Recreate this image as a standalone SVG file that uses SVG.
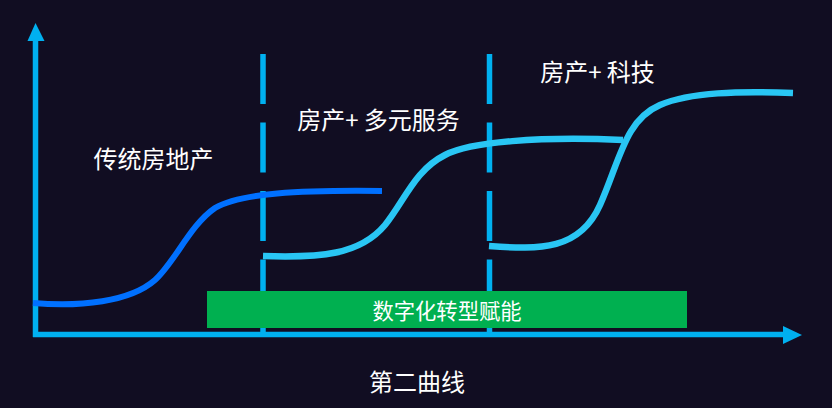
<svg xmlns="http://www.w3.org/2000/svg" width="832" height="408" viewBox="0 0 832 408">
<style>
.axis{stroke:#00b0f0;stroke-width:5.5;fill:none}
.dash{stroke:#00b0f0;stroke-width:5.5;fill:none;stroke-dasharray:50 18.5}
.c1{stroke:#0070ff;stroke-width:6;fill:none}
.c2{stroke:#29c6f4;stroke-width:6.5;fill:none}
.t{font-family:"Noto Sans CJK SC","Noto Sans",sans-serif;fill:#ffffff;text-anchor:middle}
</style>
<rect width="832" height="408" fill="#110d22"/>
<g id="axes">
<line class="axis" x1="35.5" y1="337" x2="35.5" y2="38"/>
<polygon points="35.5,23 27.5,41 44.5,41" fill="#00b0f0"/>
<line class="axis" x1="33" y1="334.5" x2="785" y2="334.5"/>
<polygon points="802,335 783,326 783,344" fill="#00b0f0"/>
</g>
<g id="dividers">
<line class="dash" x1="263" y1="54" x2="263" y2="337"/>
<line class="dash" x1="489.5" y1="54" x2="489.5" y2="337"/>
</g>
<g id="bar">
<rect x="207" y="291" width="480" height="37" fill="#00b050"/>
<text class="t" x="447" y="319" font-size="21.3">数字化转型赋能</text>
</g>
<g id="curves">
<path class="c1" d="M33,303 C80,307 130,302 155,280 C175,262 190,225 215,208 C240,193 300,190 382,191"/>
<path class="c2" d="M263,256 C320,258 360,255 385,225 C405,200 415,170 445,155 C470,142 540,136 623,140"/>
<path class="c2" d="M489,246 C540,250 580,250 600,205 C620,160 625,120 660,105 C690,92 740,91 793,93"/>
</g>
<g id="labels">
<text class="t" x="153.5" y="168" font-size="24">传统房地产</text>
<text class="t" x="378.5" y="129" font-size="24">房产+ 多元服务</text>
<text class="t" x="597.5" y="81" font-size="24">房产+ 科技</text>
<text class="t" x="417" y="391" font-size="24">第二曲线</text>
</g>
</svg>
